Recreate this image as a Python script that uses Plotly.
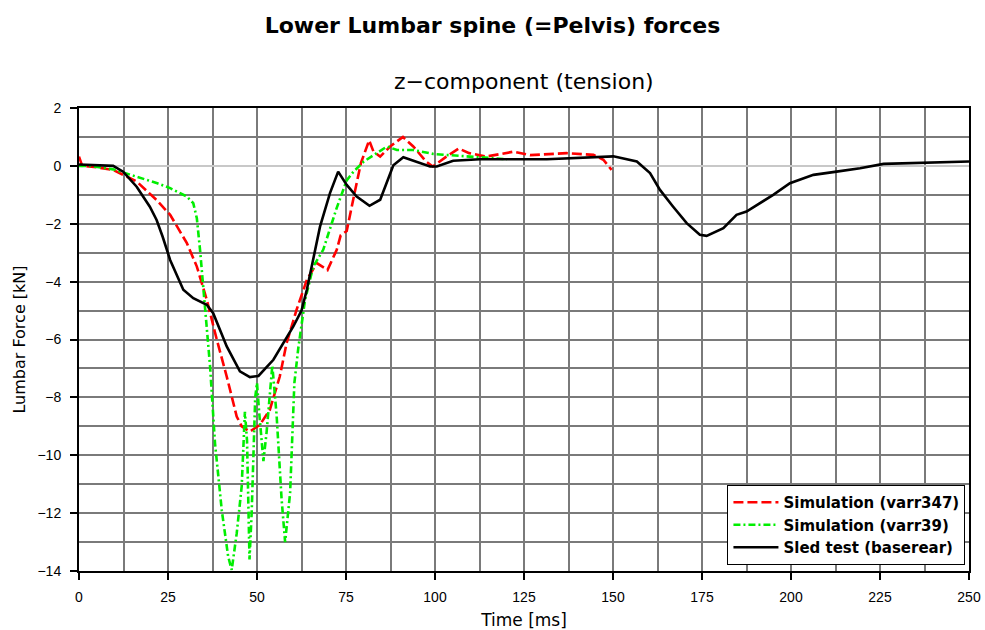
import plotly.graph_objects as go

# Sled test (baserear)
t_sled = [0, 5, 9.6, 12.4, 16.2, 19.9, 21.8, 23.5, 25.6, 29.3, 32.1, 35.9, 37.7, 41.5, 45.2, 48.0,
          50.4, 54.6, 60.2, 62.5, 64.0, 67.7, 70.5, 72.8, 75.2, 78.0, 81.6, 84.6, 88.3, 91.1, 93.9,
          98.6, 100.5, 105.1, 112.6, 131.4, 150.1, 156.7, 160.4, 163.2, 166.9, 170.7, 174.4,
          176.3, 181.0, 184.7, 187.5, 195.0, 199.7, 206.3, 212.8, 219.4, 226.0, 238.1, 250.0]
f_sled = [0.05, 0.02, 0.0, -0.2, -0.72, -1.41, -1.87, -2.45, -3.25, -4.28, -4.57, -4.8, -5.09,
          -6.24, -7.1, -7.3, -7.26, -6.7, -5.55, -5.0, -4.28, -2.1, -0.94, -0.2, -0.66, -1.06,
          -1.38, -1.17, 0.02, 0.3, 0.18, -0.02, -0.02, 0.18, 0.23, 0.23, 0.33, 0.15, -0.25,
          -0.83, -1.41, -1.98, -2.38, -2.42, -2.15, -1.69, -1.58, -1.0, -0.6, -0.31, -0.2,
          -0.08, 0.07, 0.11, 0.15]

# Simulation (varr347)
t_v347 = [0, 0.9, 5, 9.6, 16.2, 21.8, 25.6, 30.3, 33.1, 35.9, 38.7, 41.5, 44.3, 45.7, 48.0,
          50.8, 53.6, 56.4, 58.3, 61.1, 64.0, 66.8, 69.8, 72.4, 73.5, 75.2, 77.3, 79.2, 81.5,
          82.7, 84.6, 87.4, 91.0, 93.9, 97.5, 99.4, 103.0, 106.7, 109.6, 114.3, 118.0, 122.0,
          126.7, 132.0, 137.0, 144.5, 147.3, 149.6]
f_v347 = [0.32, 0.0, -0.05, -0.14, -0.54, -1.18, -1.69, -2.67, -3.48, -4.63, -6.0, -7.28,
          -8.66, -9.0, -9.18, -8.95, -8.43, -7.28, -6.13, -4.98, -3.94, -3.36, -3.6, -2.9,
          -2.4, -2.25, -1.0, 0.1, 0.88, 0.5, 0.32, 0.67, 1.0, 0.67, 0.15, -0.02, 0.3, 0.6,
          0.44, 0.32, 0.4, 0.49, 0.37, 0.4, 0.44, 0.38, 0.21, -0.14]

# Simulation (varr39)
t_v39 = [0, 3.1, 9.6, 16.2, 22.0, 25.6, 30.3, 32.1, 33.1, 34.0, 34.9, 35.9, 36.8, 38.2, 40.1,
         41.9, 42.9, 44.3, 45.7, 46.6, 47.2, 47.9, 48.5, 49.5, 50.0, 50.6, 51.8, 52.7, 54.3,
         55.5, 56.9, 57.9, 59.3, 60.5, 61.6, 63.5, 65.8, 68.6, 72.4, 75.2, 77.1, 80.0, 83.0,
         86.5, 89.3, 93.9, 99.6, 108.9, 120.2]
f_v39 = [0.0, 0.0, -0.12, -0.37, -0.6, -0.77, -1.06, -1.29, -1.81, -2.9, -4.17, -5.78, -6.9,
         -9.58, -11.9, -13.5, -13.96, -12.7, -11.08, -8.5, -9.5, -13.6, -12.0, -8.0, -7.5,
         -8.5, -10.2, -9.2, -6.9, -8.6, -11.5, -13.0, -11.3, -7.5, -6.3, -4.63, -3.48, -2.9,
         -1.45, -0.5, -0.2, 0.15, 0.4, 0.67, 0.55, 0.55, 0.41, 0.32, 0.23]

x_ticks = [0, 25, 50, 75, 100, 125, 150, 175, 200, 225, 250]
y_ticks = [2, 0, -2, -4, -6, -8, -10, -12, -14]

FONT = "Liberation Sans, Arial, sans-serif"
WIDE = "DejaVu Sans, Verdana, sans-serif"

L, R, T, B = 79, 16, 108, 59
H = 630 - T - B

fig = go.Figure()
fig.add_trace(go.Scatter(x=t_v347, y=f_v347, mode="lines", name="Simulation (varr347)",
                         line=dict(color="#ff0000", width=2.6, dash="10px,4px")))
fig.add_trace(go.Scatter(x=t_v39, y=f_v39, mode="lines", name="Simulation (varr39)",
                         line=dict(color="#00ee00", width=2.6, dash="7px,3px,2px,3px")))
fig.add_trace(go.Scatter(x=t_sled, y=f_sled, mode="lines", name="Sled test (baserear)",
                         line=dict(color="#000000", width=2.6)))

fig.update_layout(
    width=985, height=630,
    margin=dict(l=L, r=R, t=T, b=B),
    paper_bgcolor="white", plot_bgcolor="white",
    font=dict(family=FONT, color="black", size=14),
    title=dict(text="<b>Lower Lumbar spine (=Pelvis) forces</b>", x=0.5, xanchor="center",
               y=1 - 25 / 630, yanchor="middle", font=dict(size=22, family=WIDE)),
    showlegend=True,
    legend=dict(x=0.996, y=0.013, xanchor="right", yanchor="bottom",
                bgcolor="white", bordercolor="black", borderwidth=1,
                font=dict(size=15, family=WIDE, color="black", weight="bold"),
                itemwidth=45),
    annotations=[dict(text="z\u2212component (tension)", x=0.5, xref="paper",
                      y=(630 - B - 82) / H, yref="paper", yanchor="middle", showarrow=False,
                      font=dict(size=22, family=WIDE))],
)

fig.update_xaxes(range=[0, 250], tickvals=x_ticks, ticktext=[str(v) for v in x_ticks],
                 automargin=False,
                 showgrid=True, gridcolor="#7a7a7a", gridwidth=1.5,
                 minor=dict(dtick=12.5, tick0=0, showgrid=True, gridcolor="#7a7a7a", gridwidth=1.5),
                 showline=True, linecolor="black", linewidth=2, mirror=True,
                 ticks="outside", ticklen=7, tickwidth=1.5, tickcolor="black",
                 ticklabelstandoff=5,
                 zeroline=False, tickfont=dict(size=14),
                 title=dict(text="Time [ms]", font=dict(size=17, family=WIDE), standoff=10))
fig.update_yaxes(range=[-14, 2], tickvals=y_ticks,
                 ticktext=[str(v).replace("-", "\u2212") for v in y_ticks],
                 automargin=False,
                 showgrid=True, gridcolor="#7a7a7a", gridwidth=1.5,
                 minor=dict(dtick=1, tick0=0, showgrid=True, gridcolor="#7a7a7a", gridwidth=1.5),
                 showline=True, linecolor="black", linewidth=2, mirror=True,
                 ticks="outside", ticklen=7, tickwidth=1.5, tickcolor="black",
                 ticklabelstandoff=6,
                 zeroline=True, zerolinecolor="#c8c8c8", zerolinewidth=1.5,
                 tickfont=dict(size=14),
                 title=dict(text="Lumbar Force [kN]", font=dict(size=16, family=WIDE), standoff=8))

fig.write_html("out.html")
